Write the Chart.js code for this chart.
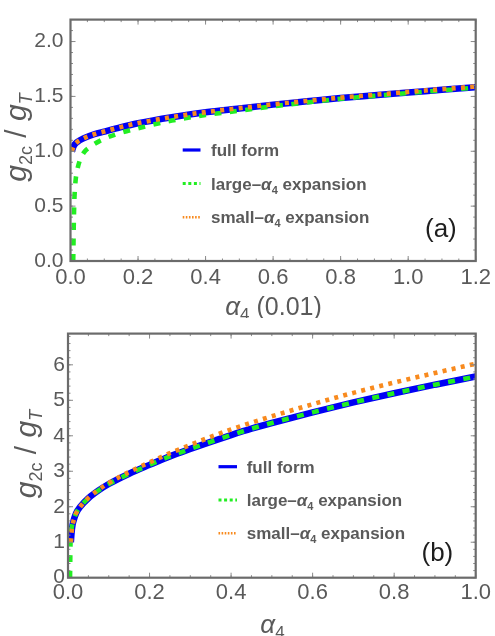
<!DOCTYPE html>
<html><head><meta charset="utf-8">
<script src="https://cdn.jsdelivr.net/npm/chart.js@4/dist/chart.umd.min.js"></script>
<style>
html,body{margin:0;padding:0;background:#fff;overflow:hidden;}
#wrapA{position:absolute;left:0;top:0;width:495px;height:318px;}
#wrapB{position:absolute;left:0;top:318px;width:495px;height:318px;}
</style></head><body>
<div id="wrapA"><canvas id="cA"></canvas></div>
<div id="wrapB"><canvas id="cB"></canvas></div>
<script>
// ---------- data: panel (a), alpha_4 in units of 0.01 ----------
const topAlpha = [0.004, 0.01, 0.02, 0.04, 0.07, 0.1, 0.15, 0.2, 0.3, 0.4, 0.5, 0.6, 0.7, 0.8, 0.9, 1.0, 1.1, 1.2];
const topFull  = [1.0, 1.05, 1.085, 1.12, 1.155, 1.18, 1.22, 1.255, 1.31, 1.355, 1.39, 1.425, 1.455, 1.485, 1.51, 1.535, 1.56, 1.585];
const topSmall = [1.0, 1.05, 1.085, 1.12, 1.155, 1.18, 1.222, 1.257, 1.312, 1.357, 1.393, 1.428, 1.459, 1.489, 1.515, 1.541, 1.566, 1.59];
const topAlphaLarge = [0.008, 0.0095, 0.011, 0.013, 0.016, 0.02, 0.028, 0.04, 0.058, 0.09, 0.14, 0.2, 0.3, 0.4, 0.5, 0.6, 0.7, 0.8, 0.9, 1.0, 1.1, 1.2];
const topLarge = [0.0, 0.3, 0.52, 0.65, 0.76, 0.83, 0.92, 0.99, 1.04, 1.1, 1.16, 1.21, 1.28, 1.33, 1.37, 1.41, 1.445, 1.478, 1.505, 1.53, 1.555, 1.58];
const topXTicks = [0, 0.2, 0.4, 0.6, 0.8, 1.0, 1.2];
const topYTicks = [0, 0.5, 1.0, 1.5, 2.0];

// ---------- data: panel (b) ----------
const botAlpha = [0.007, 0.009, 0.011, 0.013, 0.02, 0.03, 0.05, 0.075, 0.1, 0.15, 0.2, 0.25, 0.3, 0.35, 0.4, 0.45, 0.5, 0.6, 0.7, 0.8, 0.9, 1.0];
const botFull  = [1.0, 1.3, 1.48, 1.58, 1.82, 2.0, 2.24, 2.46, 2.64, 2.93, 3.18, 3.42, 3.63, 3.83, 4.02, 4.2, 4.36, 4.66, 4.94, 5.2, 5.44, 5.67];
const botSmall = [1.0, 1.3, 1.48, 1.58, 1.82, 2.0, 2.25, 2.48, 2.67, 2.98, 3.25, 3.51, 3.74, 3.97, 4.18, 4.37, 4.55, 4.89, 5.21, 5.5, 5.77, 6.03];
const botAlphaLarge = [0.005, 0.0055, 0.006, 0.007, 0.009, 0.012, 0.02, 0.03, 0.05, 0.075, 0.1, 0.15, 0.2, 0.25, 0.3, 0.35, 0.4, 0.45, 0.5, 0.6, 0.7, 0.8, 0.9, 1.0];
const botLarge = [0.0, 0.5, 0.9, 1.15, 1.4, 1.56, 1.82, 2.0, 2.24, 2.46, 2.64, 2.93, 3.18, 3.42, 3.63, 3.83, 4.02, 4.2, 4.36, 4.66, 4.94, 5.2, 5.44, 5.67];
const botXTicks = [0, 0.2, 0.4, 0.6, 0.8, 1.0];
const botYTicks = [0, 1, 2, 3, 4, 5, 6];

const seriesNames = ['full form', 'large-\u03b1\u2084 expansion', 'small-\u03b1\u2084 expansion'];

// ---------- styling ----------
const FAM = "'Liberation Sans', Arial, sans-serif";
const TXT = '#5a5a5a';
const BLUE = '#0000f5', GREEN = '#22ee22', ORANGE = '#f88a1e';

function pts(xs, ys){ return xs.map((x,i)=>({x:x, y:ys[i]})); }

function drawRich(ctx, pieces, x, y, center){
  let w = 0;
  pieces.forEach(p=>{ ctx.font = p.font; p.w = ctx.measureText(p.t).width; w += p.w; });
  let cx = center ? x - w/2 : x;
  pieces.forEach(p=>{ ctx.font = p.font; ctx.fillText(p.t, cx, y + (p.dy||0)); cx += p.w; });
}

function makeChart(id, cfg){
  const deco = {
    id: 'deco',
    afterDatasetsDraw(chart){
      const ctx = chart.ctx, a = chart.chartArea;
      const xs = chart.scales.x, ys = chart.scales.y;
      ctx.save();
      // inner ticks
      ctx.strokeStyle = '#8a8a8a'; ctx.lineWidth = 1;
      const tick = (v, len, axis) => {
        if (axis === 'x') {
          const p = xs.getPixelForValue(v);
          ctx.beginPath(); ctx.moveTo(p, a.bottom); ctx.lineTo(p, a.bottom - len);
          ctx.moveTo(p, a.top); ctx.lineTo(p, a.top + len); ctx.stroke();
        } else {
          const p = ys.getPixelForValue(v);
          ctx.beginPath(); ctx.moveTo(a.left, p); ctx.lineTo(a.left + len, p);
          ctx.moveTo(a.right, p); ctx.lineTo(a.right - len, p); ctx.stroke();
        }
      };
      for (let v = 0; v <= cfg.xMax + 1e-9; v += cfg.xMinor) tick(v, 2.5, 'x');
      for (let v = 0; v <= cfg.yMax + 1e-9; v += cfg.yMinor) tick(v, 2.5, 'y');
      cfg.xTicks.forEach(v => tick(v, 5, 'x'));
      cfg.yTicks.forEach(v => tick(v, 5, 'y'));
      // frame
      ctx.strokeStyle = '#6b6b6b'; ctx.lineWidth = 2.2;
      ctx.strokeRect(a.left, a.top, a.right - a.left, a.bottom - a.top);

      ctx.fillStyle = TXT; ctx.textBaseline = 'alphabetic'; ctx.textAlign = 'left';
      // x title
      drawRich(ctx, cfg.xTitle, cfg.xTitleX, cfg.xTitleY, true);
      // y title (rotated)
      ctx.save();
      ctx.translate(cfg.yTitleX, cfg.yTitleY);
      ctx.rotate(-Math.PI/2);
      drawRich(ctx, [
        {t:'g', font:'italic 30px ' + FAM},
        {t:'2c', font:'18px ' + FAM, dy:6},
        {t:' / ', font:'30px ' + FAM},
        {t:'g', font:'italic 30px ' + FAM},
        {t:'T', font:'italic 18px ' + FAM, dy:6}
      ], 0, 0, true);
      ctx.restore();

      // legend
      const L = cfg.legend;
      const rows = [
        {color: BLUE, width: 3.2, dash: []},
        {color: GREEN, width: 3, dash: [3, 2.6]},
        {color: ORANGE, width: 2.6, dash: [1.6, 1.5]}
      ];
      const B = 'bold 17px ' + FAM, BI = 'italic bold 17px ' + FAM, BS = 'bold 11px ' + FAM;
      const texts = [
        [{t:'full form', font:B}],
        [{t:'large\u2013', font:B}, {t:'\u03b1', font:BI}, {t:'4', font:BS, dy:4}, {t:' expansion', font:B}],
        [{t:'small\u2013', font:B}, {t:'\u03b1', font:BI}, {t:'4', font:BS, dy:4}, {t:' expansion', font:B}]
      ];
      rows.forEach((r, i) => {
        const y = L.y0 + i * L.dy;
        ctx.strokeStyle = r.color; ctx.lineWidth = r.width; ctx.setLineDash(r.dash);
        ctx.beginPath(); ctx.moveTo(L.x0, y); ctx.lineTo(L.x1, y); ctx.stroke();
        ctx.setLineDash([]);
        ctx.fillStyle = TXT;
        drawRich(ctx, texts[i], L.tx, y + 6, false);
      });

      // panel label
      ctx.fillStyle = '#1e1e1e';
      ctx.font = '26px ' + FAM;
      ctx.fillText(cfg.panel, cfg.panelX, cfg.panelY);
      ctx.restore();
    }
  };

  return new Chart(document.getElementById(id), {
    type: 'scatter',
    data: {
      datasets: [
        {label: seriesNames[0], data: pts(cfg.ax, cfg.full), showLine: true, borderColor: BLUE, borderWidth: 6.5,
         pointRadius: 0, cubicInterpolationMode: 'monotone', order: 3},
        {label: seriesNames[1], data: pts(cfg.axL, cfg.large), showLine: true, borderColor: GREEN, borderWidth: 4.6,
         borderDash: [7, 8.5], pointRadius: 0, cubicInterpolationMode: 'monotone', order: 2},
        {label: seriesNames[2], data: pts(cfg.ax, cfg.small), showLine: true, borderColor: ORANGE, borderWidth: 4.6,
         borderDash: [4, 5.3], pointRadius: 0, cubicInterpolationMode: 'monotone', order: 1}
      ]
    },
    options: {
      responsive: true, maintainAspectRatio: false, animation: false,
      layout: {padding: {left: 0, right: cfg.padR, top: cfg.padT, bottom: 0}},
      plugins: {legend: {display: false}, tooltip: {enabled: false}},
      scales: {
        x: {type: 'linear', min: 0, max: cfg.xMax,
            grid: {display: false, drawTicks: false}, border: {display: false},
            ticks: {font: {family: FAM, size: 22}, color: TXT, padding: cfg.xPad,
                    callback: v => Number(v).toFixed(1)},
            afterBuildTicks: s => { s.ticks = cfg.xTicks.map(v => ({value: v})); },
            afterFit: s => { s.height = cfg.xH; }},
        y: {type: 'linear', min: 0, max: cfg.yMax,
            grid: {display: false, drawTicks: false}, border: {display: false},
            ticks: {font: {family: FAM, size: 21}, color: TXT, padding: cfg.yPad,
                    callback: v => Number(v).toFixed(cfg.yDec)},
            afterBuildTicks: s => { s.ticks = cfg.yTicks.map(v => ({value: v})); },
            afterFit: s => { s.width = cfg.yW; }}
      }
    },
    plugins: [deco]
  });
}

makeChart('cA', {
  ax: topAlpha, full: topFull, small: topSmall, axL: topAlphaLarge, large: topLarge,
  xMax: 1.2, yMax: 2.2, xTicks: topXTicks, yTicks: topYTicks, xMinor: 0.05, yMinor: 0.1, yDec: 1,
  padR: 18, padT: 9.5, xH: 57, yW: 70.5, xPad: 4, yPad: 7,
  xTitle: [{t:'\u03b1', font:'italic 26px ' + FAM}, {t:'4', font:'17px ' + FAM, dy:5}, {t:' (0.01)', font:'25px ' + FAM}],
  xTitleX: 273.5, xTitleY: 315,
  yTitleX: 26, yTitleY: 137.5,
  legend: {x0: 182.7, x1: 200.5, tx: 211, y0: 150, dy: 33.6},
  panel: '(a)', panelX: 425, panelY: 237
});

makeChart('cB', {
  ax: botAlpha, full: botFull, small: botSmall, axL: botAlphaLarge, large: botLarge,
  xMax: 1.0, yMax: 6.88, xTicks: botXTicks, yTicks: botYTicks, xMinor: 0.05, yMinor: 0.2, yDec: 0,
  padR: 19.3, padT: 7.7, xH: 58.3, yW: 68, xPad: 2.5, yPad: 3,
  xTitle: [{t:'\u03b1', font:'italic 26px ' + FAM}, {t:'4', font:'17px ' + FAM, dy:5}],
  xTitleX: 272.5, xTitleY: 315,
  yTitleX: 36, yTitleY: 136,
  legend: {x0: 218.5, x1: 237, tx: 246.7, y0: 148.7, dy: 33.3},
  panel: '(b)', panelX: 421.5, panelY: 243
});
</script>
</body></html>
